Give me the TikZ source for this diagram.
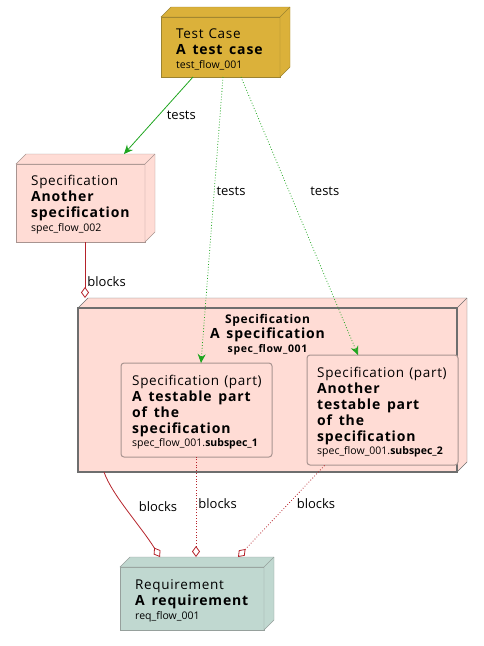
\documentclass[tikz,border=0pt]{standalone}
\usepackage{fontspec}
\setmainfont{Open Sans}
\newfontfamily\spacedfont[LetterSpace=6, WordSpace=1.5]{Open Sans}
\newfontfamily\kindfont[LetterSpace=5, WordSpace=1.2]{Open Sans}
\usetikzlibrary{arrows.meta}

\definecolor{caseFill}{HTML}{DBB13A}
\definecolor{caseLine}{HTML}{9C8330}
\definecolor{specFill}{HTML}{FFDCD5}
\definecolor{specLine}{HTML}{A89490}
\definecolor{bigLine}{HTML}{6E6E6E}
\definecolor{reqFill}{HTML}{C0D8D0}
\definecolor{reqLine}{HTML}{96A09C}
\definecolor{testGreen}{HTML}{1FA51F}
\definecolor{blockRed}{HTML}{B5222A}

\newcommand{\fkind}{\kindfont\fontsize{13.5}{16}\selectfont}
\newcommand{\ftitle}{\spacedfont\bfseries\fontsize{14}{16}\selectfont}
\newcommand{\fid}{\normalfont\fontsize{10.5}{14}\selectfont}

% top and right faces of a 3D node
\newcommand{\boxdepth}[3]{%
  \filldraw[fill=#2, draw=#3] (#1.north west) -- ++(10pt,10pt)
    -- ([shift={(10pt,10pt)}]#1.north east)
    -- ([shift={(10pt,10pt)}]#1.south east) -- (#1.south east)
    -- (#1.north east) -- cycle;
  \draw[draw=#3] (#1.north east) -- ++(10pt,10pt);
}

\begin{document}
\begin{tikzpicture}[
    x=1pt, y=-1pt,
    face/.style={rectangle, outer sep=0pt, inner sep=0pt, line width=1pt},
    casebox/.style={face, fill=caseFill, draw=caseLine},
    specbox/.style={face, fill=specFill, draw=specLine},
    reqbox/.style={face, fill=reqFill, draw=reqLine},
    partbox/.style={rectangle, rounded corners=3pt, outer sep=0pt, fill=specFill,
                    draw=specLine, line width=1pt, inner sep=0pt},
    txt/.style={anchor=west, align=left, inner sep=0pt, yshift=-2pt,
                font=\fontsize{14}{16}\selectfont},
    tests/.style={-{Stealth[length=9pt, width=8pt, inset=3pt]}, draw=testGreen,
                  line width=0.8pt},
    blocks/.style={{Diamond[open, length=11pt, width=8pt]}-, draw=blockRed,
                   line width=0.8pt},
    dots/.style={dash pattern=on 0.8pt off 2pt},
    lbl/.style={font=\fontsize{13}{15}\selectfont, text=black, inner sep=2pt}
]
\useasboundingbox (0,0) rectangle (484,646);

% Test case
\node[casebox, minimum width=119pt, minimum height=60pt] (case) at (220.5,47) {};
\boxdepth{case}{caseFill}{caseLine}
\node[txt] (casetext) at ([xshift=15pt]case.west)
  {\fkind Test Case\\\ftitle A test case\\[-2pt]\fid test\_flow\_001};

% Another specification
\node[specbox, minimum width=129pt, minimum height=78pt] (spectwo) at (80.5,203) {};
\boxdepth{spectwo}{specFill}{specLine}
\node[txt] (spectwotext) at ([xshift=15pt]spectwo.west)
  {\fkind Specification\\\ftitle Another\\\ftitle specification\\[-2pt]\fid spec\_flow\_002};

% A specification with its parts
\node[specbox, draw=bigLine, line width=1.5pt, minimum width=379pt, minimum height=164pt]
  (specone) at (267.5,390) {};
\boxdepth{specone}{specFill}{bigLine}
\draw[draw=bigLine, line width=1.5pt] (specone.north west) rectangle (specone.south east);
\node[anchor=north, align=center, inner sep=0pt, font=\fontsize{14}{15}\selectfont]
  (specname) at (267.5,314)
  {\spacedfont\bfseries\fontsize{12}{15}\selectfont Specification\\
   \ftitle A specification\\[-1pt]
   \spacedfont\bfseries\fontsize{10.5}{14}\selectfont spec\_flow\_001};

\node[partbox, minimum width=151pt, minimum height=94pt] (partone) at (196.5,410) {};
\node[txt] (partonetext) at ([xshift=11pt]partone.west)
  {\fkind Specification (part)\\\ftitle A testable part\\\ftitle of the\\
   \ftitle specification\\[-3pt]\fid spec\_flow\_001.\textbf{subspec\_1}};
\node[partbox, minimum width=151pt, minimum height=110pt] (parttwo) at (382.5,410) {};
\node[txt] (parttwotext) at ([xshift=10pt]parttwo.west)
  {\fkind Specification (part)\\\ftitle Another\\\ftitle testable part\\
   \ftitle of the\\\ftitle specification\\[-3pt]\fid spec\_flow\_001.\textbf{subspec\_2}};

% Requirement
\node[reqbox, minimum width=144pt, minimum height=63pt] (req) at (192,598.5) {};
\boxdepth{req}{reqFill}{reqLine}
\node[txt] (reqtext) at ([xshift=15pt]req.west)
  {\fkind Requirement\\\ftitle A requirement\\[-2pt]\fid req\_flow\_001};

% tests
\draw[tests] ([xshift=-27.5pt]case.south) -- ([shift={(43.5pt,10pt)}]spectwo.north)
  node[lbl, midway, right=6pt] (testsa) {tests};
\draw[tests, dots] ([xshift=2.5pt]case.south) -- ([xshift=4.5pt]partone.north)
  node[lbl, pos=0.4, right] (testsb) {tests};
\draw[tests, dots] ([xshift=20.5pt]case.south) -- ([xshift=-24.5pt]parttwo.north)
  node[lbl, pos=0.41, right=19pt] (testsc) {tests};

% blocks
\draw[blocks] ([shift={(-182.5pt,10pt)}]specone.north) -- ([xshift=4.5pt]spectwo.south)
  node[lbl, pos=0.3, right] (blocksa) {blocks};
\draw[blocks] ([shift={(-32pt,10pt)}]req.north) .. controls (140,525) and (112,495) ..
  ([xshift=-163.5pt]specone.south)
  node[lbl, pos=0.55, right=12pt] (blocksb) {blocks};
\draw[blocks, dots] ([shift={(4pt,10pt)}]req.north) -- ([xshift=-0.5pt]partone.south)
  node[lbl, pos=0.53, right] (blocksc) {blocks};
\draw[blocks, dots] ([shift={(46pt,10pt)}]req.north) -- ([xshift=-57.5pt]parttwo.south)
  node[lbl, pos=0.58, right=6pt] (blocksd) {blocks};
\end{tikzpicture}
\end{document}
